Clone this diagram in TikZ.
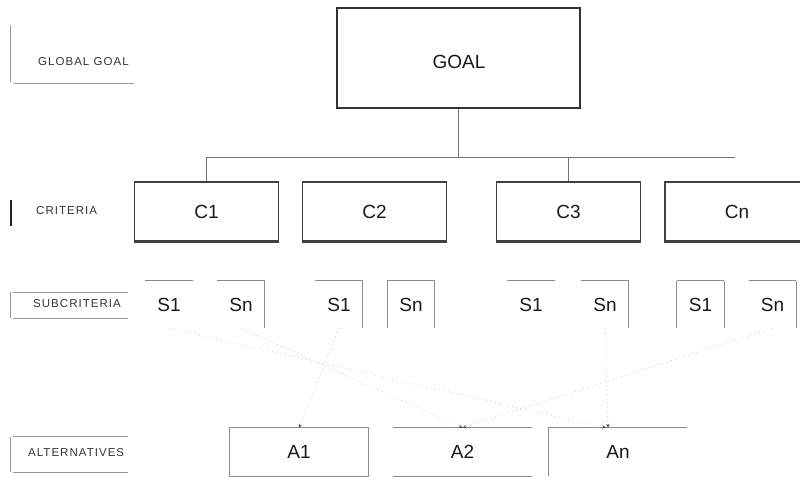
\documentclass[tikz,border=0pt]{standalone}
\usepackage{fontspec}
\setmainfont{Liberation Sans}
\usetikzlibrary{arrows.meta}
\begin{document}
\begin{tikzpicture}[x=1pt,y=-1pt,
  bigtext/.style={font=\fontsize{19}{22}\selectfont, text=black!90},
  goalbox/.style={draw=black!80, line width=2.4pt, minimum width=243pt, minimum height=100pt, inner sep=0pt},
  critbox/.style={bigtext, draw=black!75, line width=1.4pt, minimum width=144pt, minimum height=59pt, inner sep=0pt},
  subbox/.style={bigtext, minimum width=47pt, minimum height=47pt, inner sep=0pt},
  altbox/.style={bigtext, minimum width=138pt, minimum height=48pt, inner sep=0pt},
  edge/.style={draw=black!45, line width=0.9pt},
  tree/.style={draw=black!55, line width=1pt},
  heavy/.style={draw=black!75, line width=2.6pt},
  lvl/.style={font=\fontsize{11.5}{13}\selectfont\addfontfeature{LetterSpace=9}, text=black!80, inner sep=0pt, anchor=west},
  lvlline/.style={draw=black!40, line width=0.8pt},
  faint/.style={draw=black!22, line width=0.8pt, dash pattern=on 0.8pt off 3.6pt,
    -{Stealth[length=4pt,width=3.5pt,black!70]}}
]
\useasboundingbox (0,0) rectangle (800,479);

% level labels
\node[lvl] (lglobal) at (38,62) {GLOBAL GOAL};
\draw[lvlline] (10,25) -- (10,82);
\draw[lvlline] (14,83) -- (134,83);

\node[lvl] (lcrit) at (36,211) {CRITERIA};
\draw[draw=black!85, line width=2pt] (11,200) -- (11,226);

\node[lvl] (lsub) at (33,304) {SUBCRITERIA};
\draw[lvlline] (10,292) -- (10,318);
\draw[lvlline] (13,292) -- (128,292);
\draw[lvlline] (13,318) -- (128,318);

\node[lvl] (lalt) at (28,453) {ALTERNATIVES};
\draw[lvlline] (10,437) -- (10,472);
\draw[lvlline] (13,436) -- (128,436);
\draw[lvlline] (13,472) -- (128,472);

% goal
\node[goalbox] (goal) at (458.5,58) {};
\node[bigtext, inner sep=0pt] (goaltext) at (459,61.5) {GOAL};

% criteria
\node[critbox] (c1) at (206.5,211.5) {C1};
\node[critbox] (c2) at (374.5,211.5) {C2};
\node[critbox] (c3) at (568.5,211.5) {C3};
\node[critbox] (cn) at (737,211.5) {Cn};
\foreach \c in {c1,c2,c3,cn}{
  \draw[heavy] (\c.south west) -- (\c.south east);
}

% tree connectors
\coordinate (busR) at (735,157);
\draw[tree] (goal.south) -- (goal.south |- busR);
\draw[tree] (c1.north |- busR) -- (busR);
\draw[tree] (c1.north |- busR) -- (c1.north);
\draw[tree] (c3.north |- busR) -- (c3.north);

% subcriteria
\node[subbox] (s11) at (169,304.5) {S1};
\node[subbox] (s1n) at (241,304.5) {Sn};
\node[subbox] (s21) at (339,304.5) {S1};
\node[subbox] (s2n) at (411,304.5) {Sn};
\node[subbox] (s31) at (531,304.5) {S1};
\node[subbox] (s3n) at (605,304.5) {Sn};
\node[subbox] (s41) at (700.5,304.5) {S1};
\node[subbox] (s4n) at (772.5,304.5) {Sn};

\foreach \s in {s11,s1n,s21,s2n,s31,s3n,s41,s4n}{
  \draw[edge] (\s.north west) -- (\s.north east);
}
\foreach \s in {s1n,s21,s2n,s3n,s41,s4n}{
  \draw[edge] (\s.north east) -- (\s.south east);
}
\foreach \s in {s2n,s41}{
  \draw[edge] (\s.north west) -- (\s.south west);
}

% alternatives
\node[altbox] (a1) at (299,452) {A1};
\node[altbox] (a2) at (462.5,452) {A2};
\node[altbox] (an) at (618,452) {An};

\draw[edge] (a1.south west) rectangle (a1.north east);
\draw[edge] (a2.north west) -- (a2.north east);
\draw[edge] (a2.south west) -- (a2.south east);
\draw[edge] (an.south west) -- (an.north west) -- (an.north east);

% faint dotted links
\draw[faint] (s21.south) -- (a1.north);
\draw[faint] (s1n.south) -- (a2.north);
\draw[faint] (s4n.south) -- (a2.north);
\draw[faint] (s3n.south) -- ([xshift=-10pt]an.north);
\draw[faint] (s11.south) -- ([xshift=-12pt]an.north);
\end{tikzpicture}
\end{document}
